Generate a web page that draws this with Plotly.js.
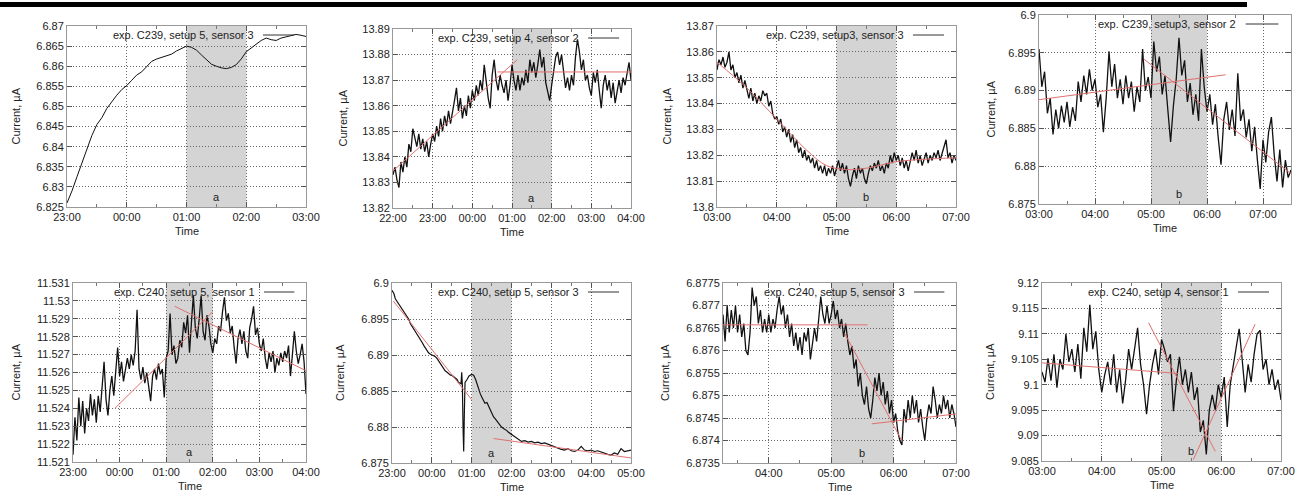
<!DOCTYPE html>
<html>
<head>
<meta charset="utf-8">
<script src="https://cdn.plot.ly/plotly-3.0.1.min.js"></script>
<style>
  html, body { margin: 0; padding: 0; background: #fff; }
  #chart { width: 1301px; height: 497px; }
</style>
</head>
<body>
<div id="chart"></div>
<script>
// ---- Sensor current records (µA) ----

// exp. C239, setup 5, sensor 3 : every 5 min from 23:00
const c239s5s3Start = '23:00';
const c239s5s3Step = 5;
const c239s5s3 = [
  6.8260, 6.8290, 6.8325, 6.8360, 6.8392, 6.8428, 6.8455, 6.8472, 6.8495, 6.8512,
  6.8528, 6.8542, 6.8552, 6.8565, 6.8578, 6.8586, 6.8598, 6.8612, 6.8618, 6.8622,
  6.8626, 6.8630, 6.8638, 6.8644, 6.8650, 6.8647, 6.8640, 6.8628, 6.8617, 6.8605,
  6.8600, 6.8596, 6.8594, 6.8597, 6.8604, 6.8618, 6.8636, 6.8645, 6.8655, 6.8664,
  6.8670, 6.8666, 6.8664, 6.8670, 6.8673, 6.8676, 6.8679, 6.8677, 6.8674
];

// exp. C239, setup 4, sensor 2 : every 3 min from 22:00
const c239s4s2Start = '22:00';
const c239s4s2Step = 3;
const c239s4s2 = [
  13.833, 13.836, 13.831, 13.828, 13.838, 13.834, 13.840, 13.836, 13.845, 13.842,
  13.851, 13.848, 13.844, 13.849, 13.843, 13.847, 13.842, 13.846, 13.840, 13.845,
  13.849, 13.846, 13.852, 13.848, 13.855, 13.850, 13.856, 13.852, 13.858, 13.853,
  13.857, 13.862, 13.867, 13.858, 13.863, 13.855, 13.860, 13.856, 13.864, 13.859,
  13.866, 13.862, 13.868, 13.864, 13.870, 13.866, 13.876, 13.869, 13.863, 13.859,
  13.872, 13.878, 13.870, 13.866, 13.872, 13.868, 13.865, 13.870, 13.862, 13.868,
  13.876, 13.870, 13.866, 13.872, 13.866, 13.871, 13.868, 13.874, 13.869, 13.878,
  13.873, 13.877, 13.871, 13.876, 13.882, 13.875, 13.879, 13.869, 13.866, 13.862,
  13.868, 13.874, 13.879, 13.881, 13.876, 13.880, 13.872, 13.867, 13.871, 13.866,
  13.872, 13.868, 13.879, 13.886, 13.881, 13.874, 13.878, 13.870, 13.872, 13.867,
  13.864, 13.873, 13.869, 13.874, 13.866, 13.859, 13.868, 13.872, 13.866, 13.870,
  13.863, 13.869, 13.861, 13.866, 13.870, 13.865, 13.871, 13.868, 13.873, 13.877,
  13.870
];
const c239s4s2FitRiseT = ['22:00', '01:08'];
const c239s4s2FitRiseY = [13.8345, 13.8780];
const c239s4s2FitFlatT = ['00:38', '04:00'];
const c239s4s2FitFlatY = [13.8732, 13.8732];

// exp. C239, setup3, sensor 3 : every 2 min from 03:00
const c239s3s3Start = '03:00';
const c239s3s3Step = 2;
const c239s3s3 = [
  13.853, 13.857, 13.855, 13.858, 13.854, 13.856, 13.860, 13.853, 13.855, 13.850,
  13.852, 13.848, 13.851, 13.846, 13.849, 13.845, 13.842, 13.846, 13.841, 13.844,
  13.840, 13.843, 13.841, 13.845, 13.843, 13.844, 13.839, 13.841, 13.836, 13.834,
  13.835, 13.832, 13.834, 13.829, 13.831, 13.827, 13.830, 13.825, 13.828, 13.823,
  13.826, 13.821, 13.823, 13.819, 13.822, 13.818, 13.820, 13.817, 13.819, 13.815,
  13.818, 13.814, 13.816, 13.813, 13.816, 13.812, 13.815, 13.813, 13.816, 13.812,
  13.815, 13.818, 13.814, 13.817, 13.813, 13.816, 13.811, 13.808, 13.812, 13.815,
  13.811, 13.816, 13.813, 13.815, 13.811, 13.809, 13.813, 13.816, 13.814, 13.817,
  13.815, 13.818, 13.814, 13.816, 13.813, 13.817, 13.815, 13.820, 13.817, 13.821,
  13.818, 13.820, 13.816, 13.819, 13.815, 13.818, 13.814, 13.817, 13.821, 13.818,
  13.822, 13.817, 13.820, 13.816, 13.819, 13.821, 13.817, 13.820, 13.818, 13.821,
  13.819, 13.822, 13.818, 13.821, 13.824, 13.826, 13.819, 13.821, 13.817, 13.820,
  13.818
];
const c239s3s3FitT = ['03:00', '03:30', '04:00', '04:30', '04:50', '05:10', '05:30', '06:00', '06:30', '07:00'];
const c239s3s3FitY = [13.856, 13.846, 13.834, 13.822, 13.816, 13.8145, 13.815, 13.8175, 13.8185, 13.819];

// exp. C239, setup3, sensor 2 : every 3 min from 03:00
const c239s3s2Start = '03:00';
const c239s3s2Step = 3;
const c239s3s2 = [
  6.8955, 6.8905, 6.8925, 6.8870, 6.8890, 6.8842, 6.8875, 6.8850, 6.8880, 6.8858,
  6.8885, 6.8852, 6.8878, 6.8860, 6.8912, 6.8885, 6.8920, 6.8895, 6.8928, 6.8900,
  6.8915, 6.8878, 6.8895, 6.8845, 6.8890, 6.8952, 6.8905, 6.8935, 6.8890, 6.8915,
  6.8882, 6.8920, 6.8890, 6.8912, 6.8872, 6.8905, 6.8885, 6.8955, 6.8900, 6.8918,
  6.8890, 6.8965, 6.8925, 6.8945, 6.8895, 6.8920, 6.8875, 6.8832, 6.8880, 6.8915,
  6.8970, 6.8920, 6.8940, 6.8885, 6.8910, 6.8868, 6.8895, 6.8860, 6.8955, 6.8905,
  6.8872, 6.8895, 6.8855, 6.8882, 6.8838, 6.8802, 6.8862, 6.8885, 6.8848, 6.8875,
  6.8840, 6.8923, 6.8860, 6.8875, 6.8838, 6.8862, 6.8820, 6.8852, 6.8808, 6.8770,
  6.8835, 6.8805, 6.8845, 6.8865, 6.8815, 6.8780, 6.8822, 6.8772, 6.8808, 6.8785,
  6.8795
];
const c239s3s2FitRiseT = ['03:00', '06:20'];
const c239s3s2FitRiseY = [6.8888, 6.8921];
const c239s3s2FitFallT = ['04:52', '07:30'];
const c239s3s2FitFallY = [6.8942, 6.8790];

// exp. C240, setup 5, sensor 1 : every 2.5 min from 23:00
const c240s5s1Start = '23:00';
const c240s5s1Step = 2.5;
const c240s5s1 = [
  11.5214, 11.5235, 11.5222, 11.5246, 11.5230, 11.5244, 11.5226, 11.5240, 11.5233, 11.5248,
  11.5236, 11.5245, 11.5232, 11.5247, 11.5238, 11.5252, 11.5266, 11.5245, 11.5236, 11.5250,
  11.5258, 11.5247, 11.5262, 11.5274, 11.5258, 11.5266, 11.5255, 11.5263, 11.5268, 11.5262,
  11.5270, 11.5264, 11.5272, 11.5295, 11.5262, 11.5256, 11.5263, 11.5254, 11.5260, 11.5252,
  11.5244, 11.5258, 11.5262, 11.5256, 11.5265, 11.5259, 11.5262, 11.5246, 11.5268, 11.5272,
  11.5293, 11.5270, 11.5275, 11.5265, 11.5268, 11.5278, 11.5274, 11.5288, 11.5282, 11.5292,
  11.5271, 11.5288, 11.5303, 11.5285, 11.5279, 11.5290, 11.5303, 11.5283, 11.5278, 11.5292,
  11.5286, 11.5276, 11.5271, 11.5279, 11.5276, 11.5286, 11.5283, 11.5294, 11.5302, 11.5289,
  11.5293, 11.5282, 11.5286, 11.5274, 11.5265, 11.5279, 11.5284, 11.5276, 11.5283, 11.5272,
  11.5268, 11.5285, 11.5290, 11.5297, 11.5281, 11.5285, 11.5276, 11.5272, 11.5279, 11.5268,
  11.5262, 11.5271, 11.5266, 11.5272, 11.5260, 11.5268, 11.5264, 11.5271, 11.5266, 11.5272,
  11.5268, 11.5275, 11.5258, 11.5270, 11.5283, 11.5272, 11.5265, 11.5270, 11.5276, 11.5266,
  11.5248
];
const c240s5s1FitRiseT = ['23:54', '02:00'];
const c240s5s1FitRiseY = [11.5240, 11.5294];
const c240s5s1FitFallT = ['01:11', '04:00'];
const c240s5s1FitFallY = [11.5297, 11.5261];

// exp. C240, setup 5, sensor 3 (night) : minutes after 23:00
const c240s5s3aStart = '23:00';
const c240s5s3aMinutes = [
  0, 3, 5, 8, 10, 13, 15, 18, 20, 23, 25, 28, 30, 33, 35, 38, 40, 43, 45, 48,
  50, 53, 55, 58, 60, 63, 65, 68, 70, 73, 75, 78, 80, 83, 85, 88, 90, 93, 95, 98,
  100, 104, 105, 106, 107, 108, 109, 110, 113, 116, 120, 123, 126, 128, 130, 133, 135, 138, 140, 143,
  145, 148, 150, 153, 155, 158, 160, 163, 165, 168, 170, 173, 175, 178, 180, 185, 190, 195, 200, 205,
  210, 215, 220, 225, 230, 235, 240, 245, 250, 255, 260, 265, 270, 275, 280, 285, 290, 295, 300, 305,
  310, 315, 320, 325, 330, 335, 340, 345, 350, 355, 360
];
const c240s5s3a = [
  6.8990, 6.8985, 6.8978, 6.8974, 6.8970, 6.8966, 6.8963, 6.8960, 6.8957, 6.8954,
  6.8950, 6.8943, 6.8940, 6.8936, 6.8933, 6.8930, 6.8927, 6.8922, 6.8918, 6.8913,
  6.8910, 6.8906, 6.8903, 6.8901, 6.8900, 6.8899, 6.8898, 6.8895, 6.8892, 6.8889,
  6.8885, 6.8881, 6.8878, 6.8876, 6.8874, 6.8872, 6.8872, 6.8870, 6.8868, 6.8866,
  6.8862, 6.8860, 6.8876, 6.8858, 6.8800, 6.8766, 6.8820, 6.8862, 6.8866, 6.8871,
  6.8873, 6.8872, 6.8866, 6.8860, 6.8852, 6.8846, 6.8842, 6.8836, 6.8833, 6.8834,
  6.8830, 6.8824, 6.8818, 6.8814, 6.8812, 6.8808, 6.8806, 6.8802, 6.8800, 6.8798,
  6.8797, 6.8795, 6.8793, 6.8791, 6.8789, 6.8786, 6.8783, 6.8780, 6.8781, 6.8779,
  6.8780, 6.8778, 6.8779, 6.8777, 6.8778, 6.8776, 6.8775, 6.8773, 6.8770, 6.8769,
  6.8768, 6.8770, 6.8767, 6.8766, 6.8768, 6.8773, 6.8768, 6.8767, 6.8768, 6.8766,
  6.8767, 6.8765, 6.8763, 6.8762, 6.8761, 6.8764, 6.8762, 6.8770, 6.8766, 6.8767,
  6.8768
];
const c240s5s3aFit1T = ['23:02', '01:00'];
const c240s5s3aFit1Y = [6.8975, 6.8838];
const c240s5s3aFit2T = ['01:33', '05:00'];
const c240s5s3aFit2Y = [6.8784, 6.8757];

// exp. C240, setup 5, sensor 3 (morning) : every 2 min from 03:16
const c240s5s3bStart = '03:16';
const c240s5s3bStep = 2;
const c240s5s3b = [
  6.8768, 6.8762, 6.8770, 6.8764, 6.8769, 6.8765, 6.8770, 6.8764, 6.8768, 6.8763,
  6.8766, 6.8760, 6.8759, 6.8764, 6.8774, 6.8770, 6.8772, 6.8766, 6.8769, 6.8764,
  6.8767, 6.8764,
  6.8768, 6.8764, 6.8767, 6.8765, 6.8769, 6.8772, 6.8768, 6.8770, 6.8765, 6.8768,
  6.8763, 6.8766, 6.8761, 6.8764, 6.8760, 6.8763, 6.8759, 6.8764, 6.8762, 6.8765,
  6.8758, 6.8762, 6.8765, 6.8762, 6.8768, 6.8772, 6.8768, 6.8766, 6.8770, 6.8766,
  6.8768, 6.8771, 6.8767, 6.8769, 6.8765, 6.8767, 6.8763, 6.8766, 6.8762, 6.8759,
  6.8761, 6.8756, 6.8758, 6.8752, 6.8755, 6.8750, 6.8748, 6.8752, 6.8747, 6.8745,
  6.8749, 6.8754, 6.8751, 6.8755, 6.8750, 6.8753, 6.8748, 6.8751, 6.8746, 6.8749,
  6.8744, 6.8746, 6.8742, 6.8740, 6.8739, 6.8747, 6.8744, 6.8749, 6.8745, 6.8750,
  6.8746, 6.8749, 6.8744, 6.8747, 6.8743, 6.8740, 6.8745, 6.8748, 6.8746, 6.8752,
  6.8749, 6.8745, 6.8748, 6.8746, 6.8750, 6.8747, 6.8749, 6.8745, 6.8748, 6.8746,
  6.8743
];
const c240s5s3bFitFlatT = ['03:16', '05:35'];
const c240s5s3bFitFlatY = [6.87657, 6.87657];
const c240s5s3bFitFallT = ['05:13', '06:08'];
const c240s5s3bFitFallY = [6.87638, 6.87399];
const c240s5s3bFitRiseT = ['05:39', '07:00'];
const c240s5s3bFitRiseY = [6.87437, 6.87459];

// exp. C240, setup 4, sensor 1 : every 3 min from 03:00
const c240s4s1Start = '03:00';
const c240s4s1Step = 3;
const c240s4s1 = [
  9.1025, 9.1005, 9.1052, 9.1008, 9.1060, 9.0994, 9.1050, 9.1030, 9.1100, 9.1045,
  9.1070, 9.1025, 9.1080, 9.1012, 9.1112, 9.1065, 9.1157, 9.1070, 9.1105, 9.1030,
  9.0985, 9.1020, 9.1045, 9.1000, 9.1060, 9.0985, 9.1030, 9.0963, 9.1010, 9.1070,
  9.1030, 9.1075, 9.1112, 9.1040, 9.1000, 9.0942, 9.1000, 9.1040, 9.1070, 9.1020,
  9.1089, 9.1070, 9.1045, 9.1060, 9.0948, 9.1010, 9.1055, 9.1000, 9.1030, 9.0985,
  9.1025, 9.0970, 9.0995, 9.0907, 9.0930, 9.0863, 9.0950, 9.0980, 9.0950, 9.1000,
  9.0975, 9.1015, 9.0917, 9.1000, 9.1040, 9.1080, 9.1110, 9.1050, 9.0985, 9.1040,
  9.1005, 9.1060, 9.1100, 9.1107, 9.1030, 9.1050, 9.1000, 9.1030, 9.0990, 9.1010,
  9.0970
];
const c240s4s1FitFlatT = ['03:00', '05:17'];
const c240s4s1FitFlatY = [9.1043, 9.1022];
const c240s4s1FitFallT = ['04:47', '05:54'];
const c240s4s1FitFallY = [9.1122, 9.0869];
const c240s4s1FitRiseT = ['05:32', '06:34'];
const c240s4s1FitRiseY = [9.0853, 9.1119];

// y tick values per panel
const ticksP1 = [6.825, 6.83, 6.835, 6.84, 6.845, 6.85, 6.855, 6.86, 6.865, 6.87];
const ticksP2 = [13.82, 13.83, 13.84, 13.85, 13.86, 13.87, 13.88, 13.89];
const ticksP3 = [13.8, 13.81, 13.82, 13.83, 13.84, 13.85, 13.86, 13.87];
const ticksP4 = [6.875, 6.88, 6.885, 6.89, 6.895, 6.9];
const ticksP5 = [11.521, 11.522, 11.523, 11.524, 11.525, 11.526, 11.527, 11.528, 11.529, 11.53, 11.531];
const ticksP6 = [6.875, 6.88, 6.885, 6.89, 6.895, 6.9];
const ticksP7 = [6.8735, 6.874, 6.8745, 6.875, 6.8755, 6.876, 6.8765, 6.877, 6.8775];
const ticksP8 = [9.085, 9.09, 9.095, 9.1, 9.105, 9.11, 9.115, 9.12];

// ---- helpers ----
const FONT = '"Liberation Sans", Arial, Helvetica, sans-serif';
const W = 1301, H = 497;
const DAY0 = Date.UTC(2010, 0, 1);

function clockMinutes(hhmm, firstHour) {
  const [h, m] = hhmm.split(':').map(Number);
  let t = h * 60 + m;
  if (h < firstHour) t += 1440;
  return t;
}
function stamp(min) {
  const d = new Date(DAY0 + Math.round(min * 60000));
  return d.toISOString().slice(0, 19).replace('T', ' ');
}
function stepTimes(start, step, n) {
  const t0 = clockMinutes(start, 0);
  const out = [];
  for (let i = 0; i < n; i++) out.push(stamp(t0 + i * step));
  return out;
}
function clockList(list, firstHour) { return list.map(s => stamp(clockMinutes(s, firstHour))); }

// ---- panels ----
const panels = [
  { box: [67, 306, 26, 207], name: 'exp. C239, setup 5, sensor 3',
    x: stepTimes(c239s5s3Start, c239s5s3Step, c239s5s3.length), y: c239s5s3,
    first: 23, range: ['23:00', '03:00'], shade: ['01:00', '02:00'], mark: 'a',
    ticks: ticksP1, fits: [], titleX: 15, lw: 1 },
  { box: [393, 631, 29, 208], name: 'exp. C239, setup 4, sensor 2',
    x: stepTimes(c239s4s2Start, c239s4s2Step, c239s4s2.length), y: c239s4s2,
    first: 22, range: ['22:00', '04:00'], shade: ['01:00', '02:00'], mark: 'a',
    ticks: ticksP2,
    fits: [[c239s4s2FitRiseT, c239s4s2FitRiseY], [c239s4s2FitFlatT, c239s4s2FitFlatY]], titleX: 342, lw: 1.3 },
  { box: [717, 956, 26, 207], name: 'exp. C239, setup3, sensor 3',
    x: stepTimes(c239s3s3Start, c239s3s3Step, c239s3s3.length), y: c239s3s3,
    first: 3, range: ['03:00', '07:00'], shade: ['05:00', '06:00'], mark: 'b',
    ticks: ticksP3, fits: [[c239s3s3FitT, c239s3s3FitY, 'spline']], titleX: 666, lw: 1.3 },
  { box: [1039, 1291, 15, 204], name: 'exp. C239, setup3, sensor 2',
    x: stepTimes(c239s3s2Start, c239s3s2Step, c239s3s2.length), y: c239s3s2,
    first: 3, range: ['03:00', '07:30'], shade: ['05:00', '06:00'], mark: 'b',
    ticks: ticksP4,
    fits: [[c239s3s2FitRiseT, c239s3s2FitRiseY], [c239s3s2FitFallT, c239s3s2FitFallY]], titleX: 990, lw: 1.3 },
  { box: [73, 306, 283, 462], name: 'exp. C240, setup 5, sensor 1',
    x: stepTimes(c240s5s1Start, c240s5s1Step, c240s5s1.length), y: c240s5s1,
    first: 23, range: ['23:00', '04:00'], shade: ['01:00', '02:00'], mark: 'a',
    ticks: ticksP5,
    fits: [[c240s5s1FitRiseT, c240s5s1FitRiseY], [c240s5s1FitFallT, c240s5s1FitFallY]], titleX: 15, lw: 1.3 },
  { box: [392, 631, 283, 463], name: 'exp. C240, setup 5, sensor 3',
    x: c240s5s3aMinutes.map(m => stamp(clockMinutes(c240s5s3aStart, 0) + m)), y: c240s5s3a,
    first: 23, range: ['23:00', '05:00'], shade: ['01:00', '02:00'], mark: 'a',
    ticks: ticksP6,
    fits: [[c240s5s3aFit1T, c240s5s3aFit1Y], [c240s5s3aFit2T, c240s5s3aFit2Y]], titleX: 340, lw: 1.2 },
  { box: [723, 956, 283, 463], name: 'exp. C240, setup 5, sensor 3',
    x: stepTimes(c240s5s3bStart, c240s5s3bStep, c240s5s3b.length), y: c240s5s3b,
    first: 3, range: ['03:16', '07:00'], shade: ['05:00', '06:00'], mark: 'b',
    ticks: ticksP7,
    fits: [[c240s5s3bFitFlatT, c240s5s3bFitFlatY], [c240s5s3bFitFallT, c240s5s3bFitFallY],
           [c240s5s3bFitRiseT, c240s5s3bFitRiseY]], titleX: 665, lw: 1.3 },
  { box: [1042, 1281, 283, 461], name: 'exp. C240, setup 4, sensor 1',
    x: stepTimes(c240s4s1Start, c240s4s1Step, c240s4s1.length), y: c240s4s1,
    first: 3, range: ['03:00', '07:00'], shade: ['05:00', '06:00'], mark: 'b',
    ticks: ticksP8,
    fits: [[c240s4s1FitFlatT, c240s4s1FitFlatY], [c240s4s1FitFallT, c240s4s1FitFallY],
           [c240s4s1FitRiseT, c240s4s1FitRiseY]], titleX: 990, lw: 1.3 }
];

const traces = [];
const layout = {
  width: W, height: H, autosize: false,
  margin: { l: 0, r: 0, t: 0, b: 0, pad: 0 },
  paper_bgcolor: '#ffffff', plot_bgcolor: '#ffffff',
  showlegend: false,
  font: { family: FONT, size: 11, color: '#222' },
  shapes: [], annotations: []
};

// page rule across the top
layout.shapes.push({ type: 'rect', xref: 'paper', yref: 'paper',
  x0: 0, x1: 1247 / W, y0: 1 - 7 / H, y1: 1 - 2 / H,
  fillcolor: '#000', line: { width: 0 } });

panels.forEach((p, i) => {
  const n = i + 1;
  const xa = n === 1 ? 'x' : 'x' + n;
  const ya = n === 1 ? 'y' : 'y' + n;
  const xKey = n === 1 ? 'xaxis' : 'xaxis' + n;
  const yKey = n === 1 ? 'yaxis' : 'yaxis' + n;
  const [L, R, T, B] = p.box;

  layout[xKey] = {
    type: 'date', anchor: ya, domain: [L / W, R / W],
    range: clockList(p.range, p.first),
    tickformat: '%H:%M', dtick: 3600000, tick0: '2010-01-01 00:00',
    ticks: 'inside', ticklen: 5, tickcolor: '#555', tickwidth: 1,
    minor: { ticks: 'inside', ticklen: 3, dtick: 1800000, tickcolor: '#777', showgrid: false },
    showline: true, linecolor: '#999', linewidth: 1, mirror: 'ticks',
    showgrid: true, gridcolor: '#666', griddash: '1px,2px', gridwidth: 1,
    zeroline: false, fixedrange: true, automargin: false,
    tickfont: { family: FONT, size: 11, color: '#222' }
  };
  layout[yKey] = {
    anchor: xa, domain: [1 - B / H, 1 - T / H],
    range: [p.ticks[0], p.ticks[p.ticks.length - 1]],
    tickmode: 'array', tickvals: p.ticks, ticktext: p.ticks.map(v => String(v)),
    ticks: 'inside', ticklen: 5, tickcolor: '#555', tickwidth: 1,
    showline: true, linecolor: '#999', linewidth: 1, mirror: 'ticks',
    showgrid: true, gridcolor: '#666', griddash: '1px,2px', gridwidth: 1,
    zeroline: false, fixedrange: true, automargin: false,
    tickfont: { family: FONT, size: 11, color: '#222' }
  };

  // highlighted interval
  const sh = clockList(p.shade, p.first);
  layout.shapes.push({ type: 'rect', xref: xa, yref: ya + ' domain',
    x0: sh[0], x1: sh[1], y0: 0, y1: 1,
    fillcolor: '#d4d4d4', line: { width: 0 }, layer: 'below' });

  // measured current
  traces.push({ type: 'scatter', mode: 'lines', x: p.x, y: p.y, xaxis: xa, yaxis: ya,
    line: { color: '#111', width: p.lw }, hoverinfo: 'skip' });

  // trend fits
  p.fits.forEach(f => {
    traces.push({ type: 'scatter', mode: 'lines', x: clockList(f[0], p.first), y: f[1],
      xaxis: xa, yaxis: ya, hoverinfo: 'skip',
      line: { color: '#e0706e', width: 1, shape: f[2] || 'linear', smoothing: 1 } });
  });

  // key: label followed by a line sample
  const keyY = 1 - 9 / (B - T);
  layout.annotations.push({ xref: xa + ' domain', yref: ya + ' domain',
    x: 0.79, y: keyY, xanchor: 'right', yanchor: 'middle', showarrow: false,
    text: p.name, font: { family: FONT, size: 11, color: '#222' } });
  layout.shapes.push({ type: 'line', xref: xa + ' domain', yref: ya + ' domain',
    x0: 0.82, x1: 0.95, y0: keyY, y1: keyY, line: { color: '#333', width: 1 } });

  // interval letter
  const mid = stamp((clockMinutes(p.shade[0], p.first) + clockMinutes(p.shade[1], p.first)) / 2);
  layout.annotations.push({ xref: xa, yref: ya + ' domain', x: mid, y: 10 / (B - T),
    xanchor: 'center', yanchor: 'middle', showarrow: false, text: p.mark,
    font: { family: FONT, size: 11, color: '#222' } });

  // axis titles
  layout.annotations.push({ xref: 'paper', yref: 'paper', x: p.titleX / W, y: 1 - ((T + B) / 2) / H,
    xanchor: 'center', yanchor: 'middle', textangle: -90, showarrow: false,
    text: 'Current, µA', font: { family: FONT, size: 11, color: '#222' } });
  layout.annotations.push({ xref: 'paper', yref: 'paper', x: ((L + R) / 2) / W, y: 1 - (B + 24) / H,
    xanchor: 'center', yanchor: 'middle', showarrow: false,
    text: 'Time', font: { family: FONT, size: 11, color: '#222' } });
});

Plotly.newPlot('chart', traces, layout, { staticPlot: true, displayModeBar: false });
</script>
</body>
</html>
